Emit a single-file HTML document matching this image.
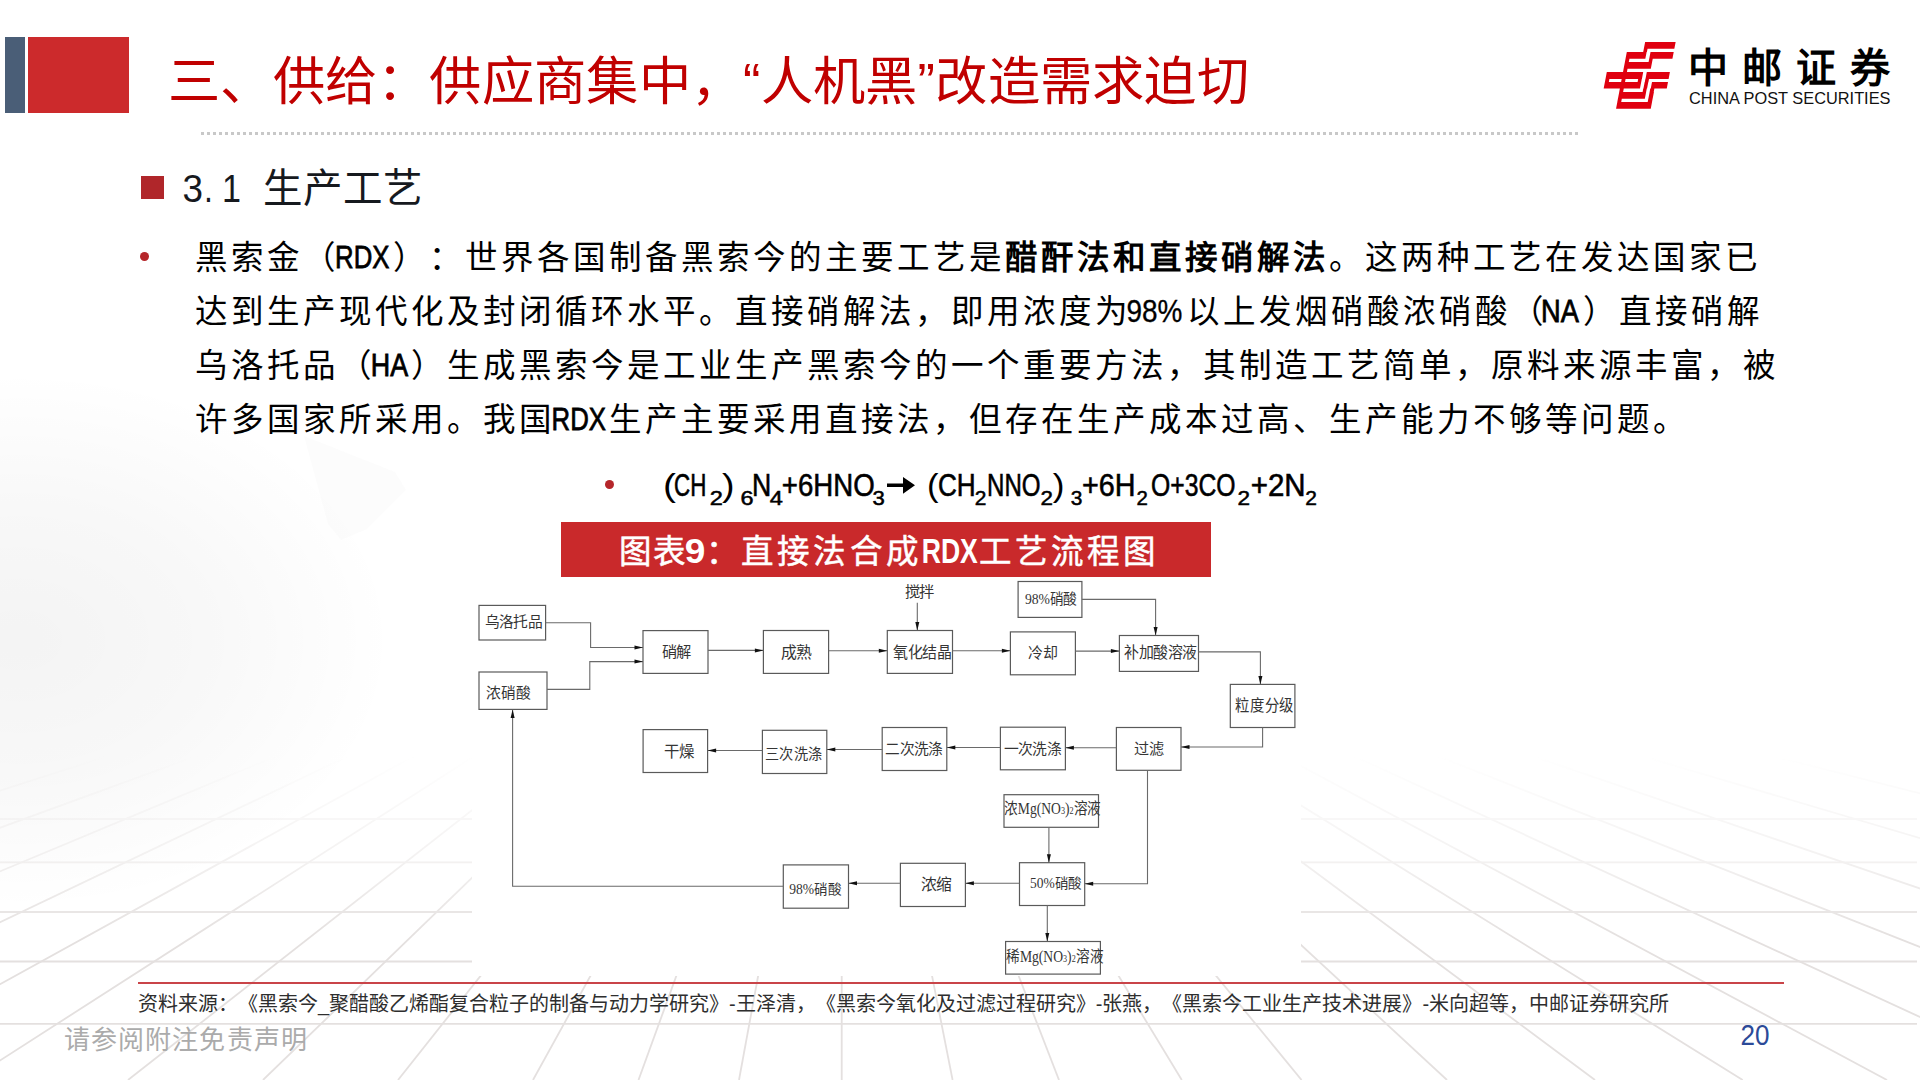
<!DOCTYPE html>
<html lang="zh-CN"><head><meta charset="utf-8">
<style>
html,body{margin:0;padding:0;}
body{width:1920px;height:1080px;position:relative;overflow:hidden;background:#fff;font-family:"Liberation Sans",sans-serif;}
.a{position:absolute;white-space:nowrap;}
#bg{position:absolute;left:0;top:0;}
.n{display:inline-block;transform-origin:0 50%;}
*{text-spacing-trim:space-all;}
</style></head><body>
<svg id="bg" width="1920" height="1080">
<defs>
<linearGradient id="fade" x1="0" y1="0" x2="0" y2="1080" gradientUnits="userSpaceOnUse"><stop offset="0" stop-color="#fff" stop-opacity="0"/><stop offset="0.70" stop-color="#fff" stop-opacity="0"/><stop offset="0.79" stop-color="#fff" stop-opacity="0.4"/><stop offset="0.87" stop-color="#fff" stop-opacity="1"/><stop offset="1" stop-color="#fff" stop-opacity="1"/></linearGradient>
<mask id="m1" maskUnits="userSpaceOnUse" x="0" y="0" width="1920" height="1080"><rect width="1920" height="1080" fill="url(#fade)"/></mask>
<radialGradient id="cloud" cx="20" cy="640" r="300" gradientUnits="userSpaceOnUse" gradientTransform="translate(20,640) scale(1.25,0.9) translate(-20,-640)"><stop offset="0" stop-color="#000" stop-opacity="0.045"/><stop offset="0.5" stop-color="#000" stop-opacity="0.028"/><stop offset="1" stop-color="#000" stop-opacity="0"/></radialGradient>
</defs>
<rect x="0" y="280" width="800" height="700" fill="url(#cloud)"/>
<polygon points="304,436 395,472 406,490 367,529 341,540 328,524" fill="#f7f5f5" opacity="0.35"/>
<g mask="url(#m1)" stroke="#e4e0df" stroke-width="1.8" fill="none">
<line x1="468.7" y1="640" x2="-900.0" y2="1080"/>
<line x1="513.7" y1="640" x2="-690.0" y2="1080"/>
<line x1="554.4" y1="640" x2="-500.0" y2="1080"/>
<line x1="590.9" y1="640" x2="-330.0" y2="1080"/>
<line x1="624.4" y1="640" x2="-173.7" y2="1080"/>
<line x1="655.1" y1="640" x2="-30.4" y2="1080"/>
<line x1="689.0" y1="640" x2="128.0" y2="1080"/>
<line x1="717.9" y1="640" x2="263.0" y2="1080"/>
<line x1="746.9" y1="640" x2="398.0" y2="1080"/>
<line x1="775.8" y1="640" x2="533.0" y2="1080"/>
<line x1="798.4" y1="640" x2="638.5" y2="1080"/>
<line x1="819.9" y1="640" x2="739.0" y2="1080"/>
<line x1="841.9" y1="640" x2="841.7" y2="1080"/>
<line x1="865.7" y1="640" x2="952.6" y2="1080"/>
<line x1="888.5" y1="640" x2="1059.0" y2="1080"/>
<line x1="914.8" y1="640" x2="1181.8" y2="1080"/>
<line x1="940.5" y1="640" x2="1301.6" y2="1080"/>
<line x1="971.6" y1="640" x2="1447.0" y2="1080"/>
<line x1="1003.4" y1="640" x2="1595.0" y2="1080"/>
<line x1="1035.0" y1="640" x2="1742.7" y2="1080"/>
<line x1="1065.9" y1="640" x2="1887.0" y2="1080"/>
<line x1="1102.3" y1="640" x2="2056.6" y2="1080"/>
<line x1="1144.9" y1="640" x2="2255.7" y2="1080"/>
<line x1="1193.0" y1="640" x2="2480.0" y2="1080"/>
<line x1="1248.7" y1="640" x2="2740.0" y2="1080"/>
<line x1="1315.1" y1="640" x2="3050.0" y2="1080"/>
<line x1="0" y1="819" x2="1917" y2="819"/>
<line x1="0" y1="862.3" x2="1917" y2="862.3"/>
<line x1="0" y1="912" x2="1917" y2="912"/>
<line x1="0" y1="961.5" x2="1917" y2="961.5"/>
<line x1="0" y1="1023.9" x2="1917" y2="1023.9"/>
</g></svg>

<!-- header blocks -->
<div class="a" style="left:5px;top:37px;width:20px;height:75.5px;background:#4a5e77"></div>
<div class="a" style="left:28px;top:37px;width:101px;height:75.5px;background:#cc2a2c"></div>
<div class="a" id="title" style="left:168px;top:50px;font-size:52.3px;letter-spacing:0.28px;line-height:64px;color:#c00000;">三、供给：供应商集中，“人机黑”改造需求迫切</div>

<!-- dotted line -->
<div class="a" style="left:201px;top:132px;width:1377px;height:3px;background:repeating-linear-gradient(90deg,#c8c8c8 0 3px,transparent 3px 6px)"></div>

<!-- logo -->
<svg class="a" style="left:0;top:0" width="1920" height="140">
<g transform="translate(1600,40) skewX(-10.76)" fill="#e0000f"><path d="M45.5,1.9h30.5v6.85h-30.5zM45.5,8.7h3.7v3.4h-3.7zM29.1,12h19.8v6.8h-19.8zM52.8,12h23.2v6.8h-23.2zM29.1,18.7h3.9v3.4h-3.9zM52.8,18.7h3.5v3.4h-3.5zM29.1,22h27.2v6.85h-27.2zM29.1,28.8h3.9v3.4h-3.9zM12.9,32.1h36.4v6.8h-36.4zM52.9,32.1h23.1v6.8h-23.1zM12.9,38.8h3.9v3.4h-3.9zM29.1,38.8h3.9v3.4h-3.9zM45.6,38.8h3.6v3.4h-3.6zM52.8,38.8h3.6v3.4h-3.6zM12.9,42.1h36.3v6.5h-36.3zM52.7,42.1h3.6v6.5h-3.6zM60,42.1h16v6.5h-16zM29.1,48.5h3.9v3.5h-3.9zM52.5,48.5h3.5v3.5h-3.5zM59.5,48.5h4.1v3.5h-4.1zM29.1,51.9h26.9v6.8h-26.9zM59.5,51.9h4.3v6.8h-4.3zM29.1,58.6h3.9v3.4h-3.9zM59.5,58.6h4.3v3.4h-4.3zM29.1,61.9h34.7v6.8h-34.7z"/></g>
</svg>
<div class="a" id="logocn" style="left:1688px;top:41.5px;font-size:40px;line-height:52px;font-weight:bold;color:#000;letter-spacing:14px">中邮证券</div>
<svg class="a" style="left:0;top:0" width="1920" height="120"><text x="1689" y="104.3" font-size="16.5" fill="#111" textLength="201.5" lengthAdjust="spacingAndGlyphs" style="font-family:'Liberation Sans',sans-serif">CHINA POST SECURITIES</text></svg>

<!-- heading -->
<div class="a" style="left:141px;top:176px;width:23px;height:23px;background:#b0262a"></div>

<!-- bullet paragraph -->
<div class="a" style="left:139.5px;top:252px;width:9px;height:9px;border-radius:50%;background:#b5262a"></div>

<!-- formula -->
<div class="a" style="left:605px;top:480px;width:9px;height:9px;border-radius:50%;background:#b5262a"></div>

<!-- banner -->
<div class="a" style="left:561px;top:521.5px;width:650px;height:55.5px;background:#c9292b"></div>

<!-- flowchart -->
<div class="a" style="left:472px;top:580px;width:829px;height:396px;background:#fff"></div>
<svg id="flow" class="a" style="left:0;top:0" width="1920" height="1080">
<g fill="none" stroke="#5a5a5a" stroke-width="1.2">
<rect x="479.0" y="605.4" width="66.6" height="34.6"/>
<rect x="479.0" y="672.0" width="68.0" height="37.4"/>
<rect x="643.0" y="630.6" width="65.0" height="42.8"/>
<rect x="763.4" y="630.5" width="65.2" height="42.9"/>
<rect x="887.3" y="630.5" width="65.2" height="42.9"/>
<rect x="1010.4" y="631.9" width="65.0" height="42.9"/>
<rect x="1119.4" y="635.5" width="79.1" height="35.9"/>
<rect x="1018.1" y="581.5" width="63.8" height="35.9"/>
<rect x="1230.3" y="684.4" width="64.6" height="43.1"/>
<rect x="1116.4" y="727.5" width="64.6" height="42.8"/>
<rect x="1000.4" y="727.2" width="65.0" height="42.6"/>
<rect x="882.2" y="727.5" width="64.6" height="43.0"/>
<rect x="762.4" y="730.3" width="64.4" height="43.2"/>
<rect x="643.1" y="729.6" width="64.5" height="42.9"/>
<rect x="1004.0" y="794.7" width="94.5" height="32.6"/>
<rect x="1019.5" y="862.7" width="65.2" height="42.8"/>
<rect x="1005.6" y="941.5" width="94.8" height="32.6"/>
<rect x="900.4" y="863.3" width="65.0" height="43.2"/>
<rect x="783.3" y="864.9" width="65.2" height="43.3"/>
</g><g fill="none" stroke="#6a6a6a" stroke-width="1.1">
<polyline points="545.6,622.8 590.6,622.8 590.6,647.5 643.0,647.5"/>
<polyline points="547.0,689.4 589.8,689.4 589.8,661.6 643.0,661.6"/>
<polyline points="708.0,650.4 763.4,650.4"/>
<polyline points="828.6,650.8 887.3,650.8"/>
<polyline points="917.3,602.8 917.3,630.5"/>
<polyline points="952.5,650.8 1010.4,650.8"/>
<polyline points="1075.4,651.1 1119.4,651.1"/>
<polyline points="1081.9,599.4 1155.6,599.4 1155.6,635.5"/>
<polyline points="1198.5,651.9 1260.4,651.9 1260.4,684.4"/>
<polyline points="1262.6,727.5 1262.6,747.0 1181.0,747.0"/>
<polyline points="1116.4,747.8 1065.4,747.8"/>
<polyline points="1000.4,747.5 946.8,747.5"/>
<polyline points="882.2,749.5 826.8,749.5"/>
<polyline points="762.4,750.5 707.6,750.5"/>
<polyline points="1147.5,770.3 1147.5,883.7 1084.7,883.7"/>
<polyline points="1048.9,827.3 1048.9,862.7"/>
<polyline points="1047.3,905.5 1047.3,941.5"/>
<polyline points="1019.5,883.2 965.4,883.2"/>
<polyline points="900.4,883.2 848.5,883.2"/>
<polyline points="783.3,886.3 512.6,886.3 512.6,709.4"/>
</g><g fill="#111">
<polygon points="643.0,647.5 634.5,645.5 634.5,649.5"/>
<polygon points="643.0,661.6 634.5,659.6 634.5,663.6"/>
<polygon points="763.4,650.4 754.9,648.4 754.9,652.4"/>
<polygon points="887.3,650.8 878.8,648.8 878.8,652.8"/>
<polygon points="917.3,630.5 915.3,622.0 919.3,622.0"/>
<polygon points="1010.4,650.8 1001.9,648.8 1001.9,652.8"/>
<polygon points="1119.4,651.1 1110.9,649.1 1110.9,653.1"/>
<polygon points="1155.6,635.5 1153.6,627.0 1157.6,627.0"/>
<polygon points="1260.4,684.4 1258.4,675.9 1262.4,675.9"/>
<polygon points="1181.0,747.0 1189.5,745.0 1189.5,749.0"/>
<polygon points="1065.4,747.8 1073.9,745.8 1073.9,749.8"/>
<polygon points="946.8,747.5 955.3,745.5 955.3,749.5"/>
<polygon points="826.8,749.5 835.3,747.5 835.3,751.5"/>
<polygon points="707.6,750.5 716.1,748.5 716.1,752.5"/>
<polygon points="1084.7,883.7 1093.2,881.7 1093.2,885.7"/>
<polygon points="1048.9,862.7 1046.9,854.2 1050.9,854.2"/>
<polygon points="1047.3,941.5 1045.3,933.0 1049.3,933.0"/>
<polygon points="965.4,883.2 973.9,881.2 973.9,885.2"/>
<polygon points="848.5,883.2 857.0,881.2 857.0,885.2"/>
<polygon points="512.6,709.4 510.6,717.9 514.6,717.9"/>
</g><g fill="#353535" style="font-family:'Liberation Serif',serif">
<text x="484.5" y="626.8" font-size="15.3" textLength="57.9" lengthAdjust="spacingAndGlyphs">乌洛托品</text>
<text x="485.6" y="698.2" font-size="14.8" textLength="44.9" lengthAdjust="spacingAndGlyphs">浓硝酸</text>
<text x="661.6" y="657.3" font-size="14.5" textLength="29.5" lengthAdjust="spacingAndGlyphs">硝解</text>
<text x="780.5" y="657.8" font-size="15.4" textLength="30.9" lengthAdjust="spacingAndGlyphs">成熟</text>
<text x="893.1" y="657.8" font-size="15.4" textLength="58.3" lengthAdjust="spacingAndGlyphs">氧化结晶</text>
<text x="1028.2" y="658.4" font-size="15.3" textLength="29.3" lengthAdjust="spacingAndGlyphs">冷却</text>
<text x="1124.3" y="657.8" font-size="15.4" textLength="72.7" lengthAdjust="spacingAndGlyphs">补加酸溶液</text>
<text x="1024.9" y="604.3" font-size="14.5" textLength="51.6" lengthAdjust="spacingAndGlyphs">98%硝酸</text>
<text x="1235.3" y="711.3" font-size="15.7" textLength="58.6" lengthAdjust="spacingAndGlyphs">粒度分级</text>
<text x="1133.9" y="753.8" font-size="15.1" textLength="30.1" lengthAdjust="spacingAndGlyphs">过滤</text>
<text x="1003.5" y="754.4" font-size="15.3" textLength="57.9" lengthAdjust="spacingAndGlyphs">一次洗涤</text>
<text x="885.1" y="754.4" font-size="15.3" textLength="57.7" lengthAdjust="spacingAndGlyphs">二次洗涤</text>
<text x="765.0" y="758.5" font-size="14.7" textLength="57.8" lengthAdjust="spacingAndGlyphs">三次洗涤</text>
<text x="664.0" y="757.1" font-size="15.4" textLength="30.0" lengthAdjust="spacingAndGlyphs">干燥</text>
<text x="1004.1" y="814.4" font-size="15.8" textLength="97.1" lengthAdjust="spacingAndGlyphs">浓Mg(NO<tspan font-size="9.5">3</tspan>)<tspan font-size="9.5">2</tspan>溶液</text>
<text x="1030.0" y="887.9" font-size="14.0" textLength="51.8" lengthAdjust="spacingAndGlyphs">50%硝酸</text>
<text x="1006.0" y="962.1" font-size="15.7" textLength="97.5" lengthAdjust="spacingAndGlyphs">稀Mg(NO<tspan font-size="9.4">3</tspan>)<tspan font-size="9.4">2</tspan>溶液</text>
<text x="920.5" y="890.1" font-size="15.4" textLength="30.7" lengthAdjust="spacingAndGlyphs">浓缩</text>
<text x="789.2" y="893.6" font-size="13.9" textLength="52.3" lengthAdjust="spacingAndGlyphs">98%硝酸</text>
<text x="904.5" y="596.8" font-size="15.3" textLength="29.9" lengthAdjust="spacingAndGlyphs">搅拌</text>
</g></svg>

<svg id="txt" class="a" style="left:0;top:0" width="1920" height="1080">
<g style="font-family:'Liberation Sans',sans-serif">
<text x="194.50 230.50 266.50 302.50" y="269.30" font-size="32.5" font-weight="350" fill="#000">黑索金（</text>
<text x="335.07" y="268.30" font-size="32.2" fill="#000" textLength="54.34" lengthAdjust="spacingAndGlyphs" stroke="#000" stroke-width="0.8">RDX</text>
<text x="392.50 428.50 464.50 500.50 536.50 572.50 608.50 644.50 680.50 716.50 752.50 788.50 824.50 860.50 896.50 932.50 968.50" y="269.30" font-size="32.5" font-weight="350" fill="#000">）：世界各国制备黑索今的主要工艺是</text>
<text x="1004.50 1040.50 1076.50 1112.50 1148.50 1184.50 1220.50 1256.50 1292.50" y="269.30" font-size="32.5" font-weight="bold" fill="#000">醋酐法和直接硝解法</text>
<text x="1328.50 1364.50 1400.50 1436.50 1472.50 1508.50 1544.50 1580.50 1616.50 1652.50 1688.50 1724.50" y="269.30" font-size="32.5" font-weight="350" fill="#000">。这两种工艺在发达国家已</text>
<text x="194.50 230.50 266.50 302.50 338.50 374.50 410.50 446.50 482.50 518.50 554.50 590.50 626.50 662.50 698.50 734.50 770.50 806.50 842.50 878.50 914.50 950.50 986.50 1022.50 1058.50 1094.50" y="323.30" font-size="32.5" font-weight="350" fill="#000">达到生产现代化及封闭循环水平。直接硝解法，即用浓度为</text>
<text x="1126.47" y="322.30" font-size="32.2" fill="#000" textLength="55.94" lengthAdjust="spacingAndGlyphs" stroke="#000" stroke-width="0.35">98%</text>
<text x="1186.50 1222.50 1258.50 1294.50 1330.50 1366.50 1402.50 1438.50 1474.50 1510.50" y="323.30" font-size="32.5" font-weight="350" fill="#000">以上发烟硝酸浓硝酸（</text>
<text x="1541.07" y="322.30" font-size="32.2" fill="#000" textLength="37.84" lengthAdjust="spacingAndGlyphs" stroke="#000" stroke-width="0.8">NA</text>
<text x="1582.50 1618.50 1654.50 1690.50 1726.50" y="323.30" font-size="32.5" font-weight="350" fill="#000">）直接硝解</text>
<text x="194.50 230.50 266.50 302.50 338.50" y="377.30" font-size="32.5" font-weight="350" fill="#000">乌洛托品（</text>
<text x="370.87" y="376.30" font-size="32.2" fill="#000" textLength="37.34" lengthAdjust="spacingAndGlyphs" stroke="#000" stroke-width="0.8">HA</text>
<text x="411.00 447.00 483.00 519.00 555.00 591.00 627.00 663.00 699.00 735.00 771.00 807.00 843.00 879.00 915.00 951.00 987.00 1023.00 1059.00 1095.00 1131.00 1167.00 1203.00 1239.00 1275.00 1311.00 1347.00 1383.00 1419.00 1455.00 1491.00 1527.00 1563.00 1599.00 1635.00 1671.00 1707.00 1743.00" y="377.30" font-size="32.5" font-weight="350" fill="#000">）生成黑索今是工业生产黑索今的一个重要方法，其制造工艺简单，原料来源丰富，被</text>
<text x="194.50 230.50 266.50 302.50 338.50 374.50 410.50 446.50 482.50 518.50" y="431.30" font-size="32.5" font-weight="350" fill="#000">许多国家所采用。我国</text>
<text x="551.57" y="430.30" font-size="32.2" fill="#000" textLength="54.34" lengthAdjust="spacingAndGlyphs" stroke="#000" stroke-width="0.8">RDX</text>
<text x="608.50 644.50 680.50 716.50 752.50 788.50 824.50 860.50 896.50 932.50 968.50 1004.50 1040.50 1076.50 1112.50 1148.50 1184.50 1220.50 1256.50 1292.50 1328.50 1364.50 1400.50 1436.50 1472.50 1508.50 1544.50 1580.50 1616.50 1652.50" y="431.30" font-size="32.5" font-weight="350" fill="#000">生产主要采用直接法，但存在生产成本过高、生产能力不够等问题。</text>
<text x="182.42" y="201.60" font-size="38" fill="#16191e" textLength="20.48" lengthAdjust="spacingAndGlyphs">3</text>
<text x="204.10" y="201.60" font-size="38" fill="#16191e" textLength="8.90" lengthAdjust="spacingAndGlyphs">.</text>
<text x="222.00" y="201.60" font-size="38" fill="#16191e" textLength="19.00" lengthAdjust="spacingAndGlyphs">1</text>
<text x="263.40 303.20 343.00 382.80" y="202.40" font-size="39.5" font-weight="400" fill="#16191e">生产工艺</text>
<text x="663.08" y="496.40" font-size="32.0" fill="#000" textLength="12.92" lengthAdjust="spacingAndGlyphs">(</text>
<text x="674.08" y="496.40" font-size="32.0" fill="#000" textLength="32.32" lengthAdjust="spacingAndGlyphs" stroke="#000" stroke-width="0.6">CH</text>
<text x="709.83" y="505.00" font-size="19.5" fill="#000" textLength="13.14" lengthAdjust="spacingAndGlyphs" stroke="#000" stroke-width="0.5">2</text>
<text x="722.08" y="496.40" font-size="32.0" fill="#000" textLength="12.52" lengthAdjust="spacingAndGlyphs">)</text>
<text x="740.43" y="505.00" font-size="19.5" fill="#000" textLength="13.04" lengthAdjust="spacingAndGlyphs" stroke="#000" stroke-width="0.5">6</text>
<text x="752.08" y="496.40" font-size="32.0" fill="#000" textLength="19.22" lengthAdjust="spacingAndGlyphs" stroke="#000" stroke-width="0.6">N</text>
<text x="769.83" y="505.00" font-size="19.5" fill="#000" textLength="13.14" lengthAdjust="spacingAndGlyphs" stroke="#000" stroke-width="0.5">4</text>
<text x="781.83" y="496.40" font-size="32.0" fill="#000" textLength="92.77" lengthAdjust="spacingAndGlyphs" stroke="#000" stroke-width="0.6">+6HNO</text>
<text x="872.43" y="505.00" font-size="19.5" fill="#000" textLength="12.29" lengthAdjust="spacingAndGlyphs" stroke="#000" stroke-width="0.5">3</text>
<text x="927.08" y="496.40" font-size="32.0" fill="#000" textLength="11.52" lengthAdjust="spacingAndGlyphs">(</text>
<text x="937.88" y="496.40" font-size="32.0" fill="#000" textLength="37.72" lengthAdjust="spacingAndGlyphs" stroke="#000" stroke-width="0.6">CH</text>
<text x="974.83" y="505.00" font-size="19.5" fill="#000" textLength="11.64" lengthAdjust="spacingAndGlyphs" stroke="#000" stroke-width="0.5">2</text>
<text x="987.08" y="496.40" font-size="32.0" fill="#000" textLength="53.52" lengthAdjust="spacingAndGlyphs" stroke="#000" stroke-width="0.6">NNO</text>
<text x="1040.53" y="505.00" font-size="19.5" fill="#000" textLength="12.44" lengthAdjust="spacingAndGlyphs" stroke="#000" stroke-width="0.5">2</text>
<text x="1052.68" y="496.40" font-size="32.0" fill="#000" textLength="11.72" lengthAdjust="spacingAndGlyphs">)</text>
<text x="1070.83" y="505.00" font-size="19.5" fill="#000" textLength="11.64" lengthAdjust="spacingAndGlyphs" stroke="#000" stroke-width="0.5">3</text>
<text x="1082.08" y="496.40" font-size="32.0" fill="#000" textLength="53.52" lengthAdjust="spacingAndGlyphs" stroke="#000" stroke-width="0.6">+6H</text>
<text x="1136.63" y="505.00" font-size="19.5" fill="#000" textLength="11.35" lengthAdjust="spacingAndGlyphs" stroke="#000" stroke-width="0.5">2</text>
<text x="1151.08" y="496.40" font-size="32.0" fill="#000" textLength="84.52" lengthAdjust="spacingAndGlyphs" stroke="#000" stroke-width="0.6">O+3CO</text>
<text x="1237.43" y="505.00" font-size="19.5" fill="#000" textLength="12.55" lengthAdjust="spacingAndGlyphs" stroke="#000" stroke-width="0.5">2</text>
<text x="1250.68" y="496.40" font-size="32.0" fill="#000" textLength="54.92" lengthAdjust="spacingAndGlyphs" stroke="#000" stroke-width="0.6">+2N</text>
<text x="1305.33" y="505.00" font-size="19.5" fill="#000" textLength="11.64" lengthAdjust="spacingAndGlyphs" stroke="#000" stroke-width="0.5">2</text>
<path d="M887,483.6 L903,483.6 L903,477 L915,485.3 L903,493.7 L903,487 L887,487 Z" fill="#000"/>
<text x="619.00 653.00" y="563.00" font-size="32.5" font-weight="500" fill="#fff" stroke="#fff" stroke-width="0.5">图表</text>
<text x="684.77" y="563.00" font-size="35.5" font-weight="bold" fill="#fff" textLength="20.61" lengthAdjust="spacingAndGlyphs">9</text>
<text x="705.50" y="563.00" font-size="32.5" font-weight="500" fill="#fff" stroke="#fff" stroke-width="0.5">：</text>
<text x="741.00 777.20 813.40 849.60 885.80" y="563.00" font-size="32.5" font-weight="500" fill="#fff" stroke="#fff" stroke-width="0.5">直接法合成</text>
<text x="921.70" y="563.00" font-size="35" font-weight="bold" fill="#fff" textLength="56.15" lengthAdjust="spacingAndGlyphs">RDX</text>
<text x="978.50 1014.70 1050.90 1087.10 1123.30" y="563.00" font-size="32.5" font-weight="500" fill="#fff" stroke="#fff" stroke-width="0.5">工艺流程图</text>
</g></svg>
<!-- footer -->
<div class="a" style="left:138px;top:981.5px;width:1646px;height:2px;background:#c94448"></div>
<div class="a" id="src" style="left:138px;top:990px;font-size:20px;line-height:28px;color:#2e2e2e;">资料来源：《黑索今_聚醋酸乙烯酯复合粒子的制备与动力学研究》-王泽清，《黑索今氧化及过滤过程研究》-张燕，《黑索今工业生产技术进展》-米向超等，中邮证券研究所</div>
<div class="a" id="disc" style="left:64px;top:1023px;font-size:26px;line-height:34px;color:#ababab;letter-spacing:1.1px;">请参阅附注免责声明</div>
<svg class="a" style="left:1700px;top:1000px" width="120" height="60"><text x="40.5" y="45" font-size="29" fill="#2c4a98" textLength="29" lengthAdjust="spacingAndGlyphs" style="font-family:'Liberation Sans',sans-serif">20</text></svg>
</body></html>
